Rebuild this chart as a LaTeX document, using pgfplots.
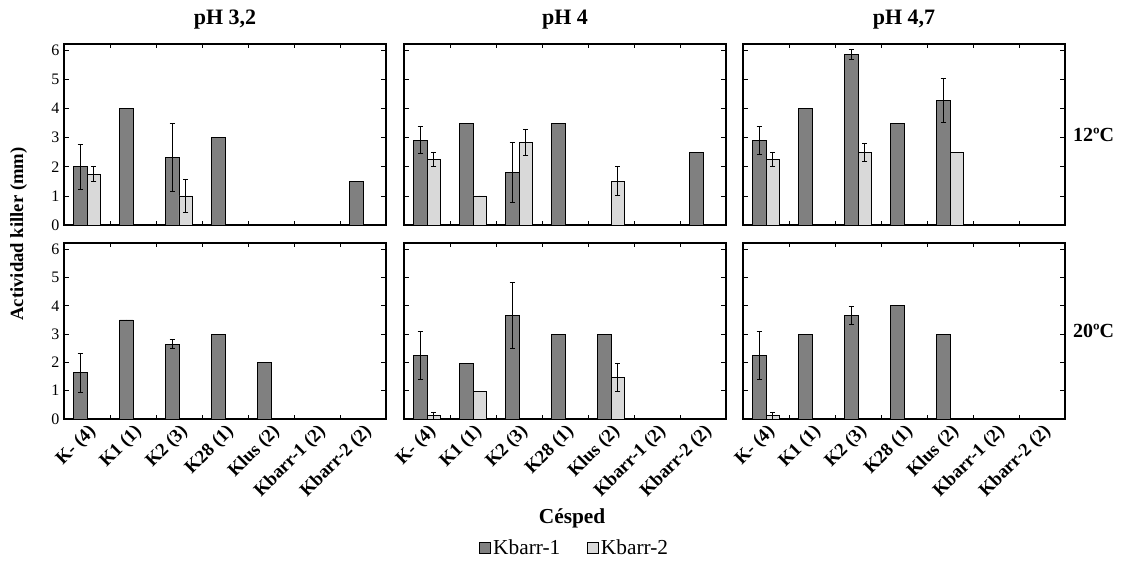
\documentclass[border=0pt]{standalone}
\usepackage{pgfplots}
\pgfplotsset{compat=1.18}
\usepackage{fontspec}
\setmainfont{Liberation Serif}
\definecolor{darkbar}{HTML}{808080}
\definecolor{lightbar}{HTML}{D9D9D9}
\pgfplotsset{
 panel/.style={scale only axis, width=241.5pt, xmin=-0.5, xmax=6.5, ymin=0, ymax=6.22,
   ybar, bar width=0.29, ytick={0,...,6}, xtick={0,...,6}, minor xtick={0.5,1.5,...,5.5},
   tick align=inside, major x tick style={draw=none}, minor tick length=3pt, major tick length=3.5pt,
   tick style={black, line width=0.5pt}, axis line style={line width=1.1pt},
   every tick label/.append style={font=\fontsize{12}{14}\selectfont},
   /pgf/number format/assume math mode=true, clip=false, anchor=north west, xticklabels={},
   title style={font=\bfseries\fontsize{16.5}{18}\selectfont, at={(0.5,1)}, anchor=center, yshift=12pt},
   legend image code/.code={\draw[#1, line width=0.5pt] (0pt,-4pt) rectangle (8pt,4pt);}},
 top/.style={height=135.75pt},
 bot/.style={height=132pt, xticklabels={K- (4),K1 (1),K2 (3),K28 (1),Klus (2),Kbarr-1 (2),Kbarr-2 (2)},
   xticklabel style={rotate=45, anchor=north east, inner sep=2pt, font=\bfseries\fontsize{14}{16}\selectfont}},
 noy/.style={yticklabels={}},
 dk/.style={fill=darkbar, draw=black, line width=0.5pt, bar shift=-0.145,
   error bars/.cd, y dir=both, y explicit, error bar style={line width=0.6pt,black},
   error mark options={rotate=90, mark size=2pt, line width=0.6pt, black}},
 lt/.style={fill=lightbar, draw=black, line width=0.5pt, bar shift=0.145,
   error bars/.cd, y dir=both, y explicit, error bar style={line width=0.6pt,black},
   error mark options={rotate=90, mark size=2pt, line width=0.6pt, black}},
}
\begin{document}
\begin{tikzpicture}
\path[use as bounding box] (0,0) rectangle (842.25pt,-422.25pt);
% ---------- top row: 12 C
\begin{axis}[panel, top, at={(48pt,-33pt)}, title={pH 3,2}]
\addplot[dk] coordinates {(0,2.0) +- (0,0.78) (1,4.0) +- (0,0) (2,2.33) +- (0,1.17) (3,3.0) +- (0,0) (6,1.5) +- (0,0)};
\addplot[lt] coordinates {(0,1.75) +- (0,0.25) (2,1.0) +- (0,0.57)};
\end{axis}
\begin{axis}[panel, top, noy, at={(303pt,-33pt)}, title={pH 4}]
\addplot[dk] coordinates {(0,2.92) +- (0,0.47) (1,3.5) +- (0,0) (2,1.82) +- (0,1.03) (3,3.5) +- (0,0) (6,2.5) +- (0,0)};
\addplot[lt] coordinates {(0,2.25) +- (0,0.25) (1,1.0) +- (0,0) (2,2.83) +- (0,0.45) (4,1.5) +- (0,0.5)};
\end{axis}
\begin{axis}[panel, top, noy, at={(557.25pt,-33pt)}, title={pH 4,7}]
\addplot[dk] coordinates {(0,2.9) +- (0,0.48) (1,4.0) +- (0,0) (2,5.87) +- (0,0.17) (3,3.5) +- (0,0) (4,4.28) +- (0,0.76)};
\addplot[lt] coordinates {(0,2.25) +- (0,0.25) (2,2.5) +- (0,0.3) (4,2.5) +- (0,0)};
\node[anchor=west, xshift=2.5pt, font=\bfseries\fontsize{15}{17}\selectfont] at (rel axis cs:1,0.5) {12ºC};
\end{axis}
% ---------- bottom row: 20 C
\begin{axis}[panel, bot, at={(48pt,-182.25pt)}]
\addplot[dk] coordinates {(0,1.64) +- (0,0.69) (1,3.5) +- (0,0) (2,2.65) +- (0,0.17) (3,3.0) +- (0,0) (4,2.0) +- (0,0)};
\end{axis}
\begin{axis}[panel, bot, noy, at={(303pt,-182.25pt)},
  xlabel={Césped}, xlabel style={at={(0.522,-0.5625)}, anchor=center, font=\bfseries\fontsize{16}{18}\selectfont},
  legend columns=2,
  legend style={at={(0.531,-0.733)}, anchor=center, draw=none, fill=none, font=\fontsize{16}{18}\selectfont,
    /tikz/every even column/.append style={column sep=18pt}}]
\addplot[dk] coordinates {(0,2.24) +- (0,0.85) (1,1.97) +- (0,0) (2,3.65) +- (0,1.17) (3,3.0) +- (0,0) (4,3.0) +- (0,0)};
\addplot[lt] coordinates {(0,0.12) +- (0,0.12) (1,0.97) +- (0,0) (4,1.47) +- (0,0.5)};
\legend{Kbarr-1,Kbarr-2}
\end{axis}
\begin{axis}[panel, bot, noy, at={(557.25pt,-182.25pt)}]
\addplot[dk] coordinates {(0,2.24) +- (0,0.85) (1,3.0) +- (0,0) (2,3.66) +- (0,0.33) (3,4.0) +- (0,0) (4,3.0) +- (0,0)};
\addplot[lt] coordinates {(0,0.12) +- (0,0.12)};
\node[anchor=west, xshift=2.5pt, font=\bfseries\fontsize{15}{17}\selectfont] at (rel axis cs:1,0.5) {20ºC};
\end{axis}
\node[rotate=90, font=\bfseries\fontsize{14}{16}\selectfont] at (14pt,-175.5pt) {Actividad killer (mm)};
\end{tikzpicture}
\end{document}
